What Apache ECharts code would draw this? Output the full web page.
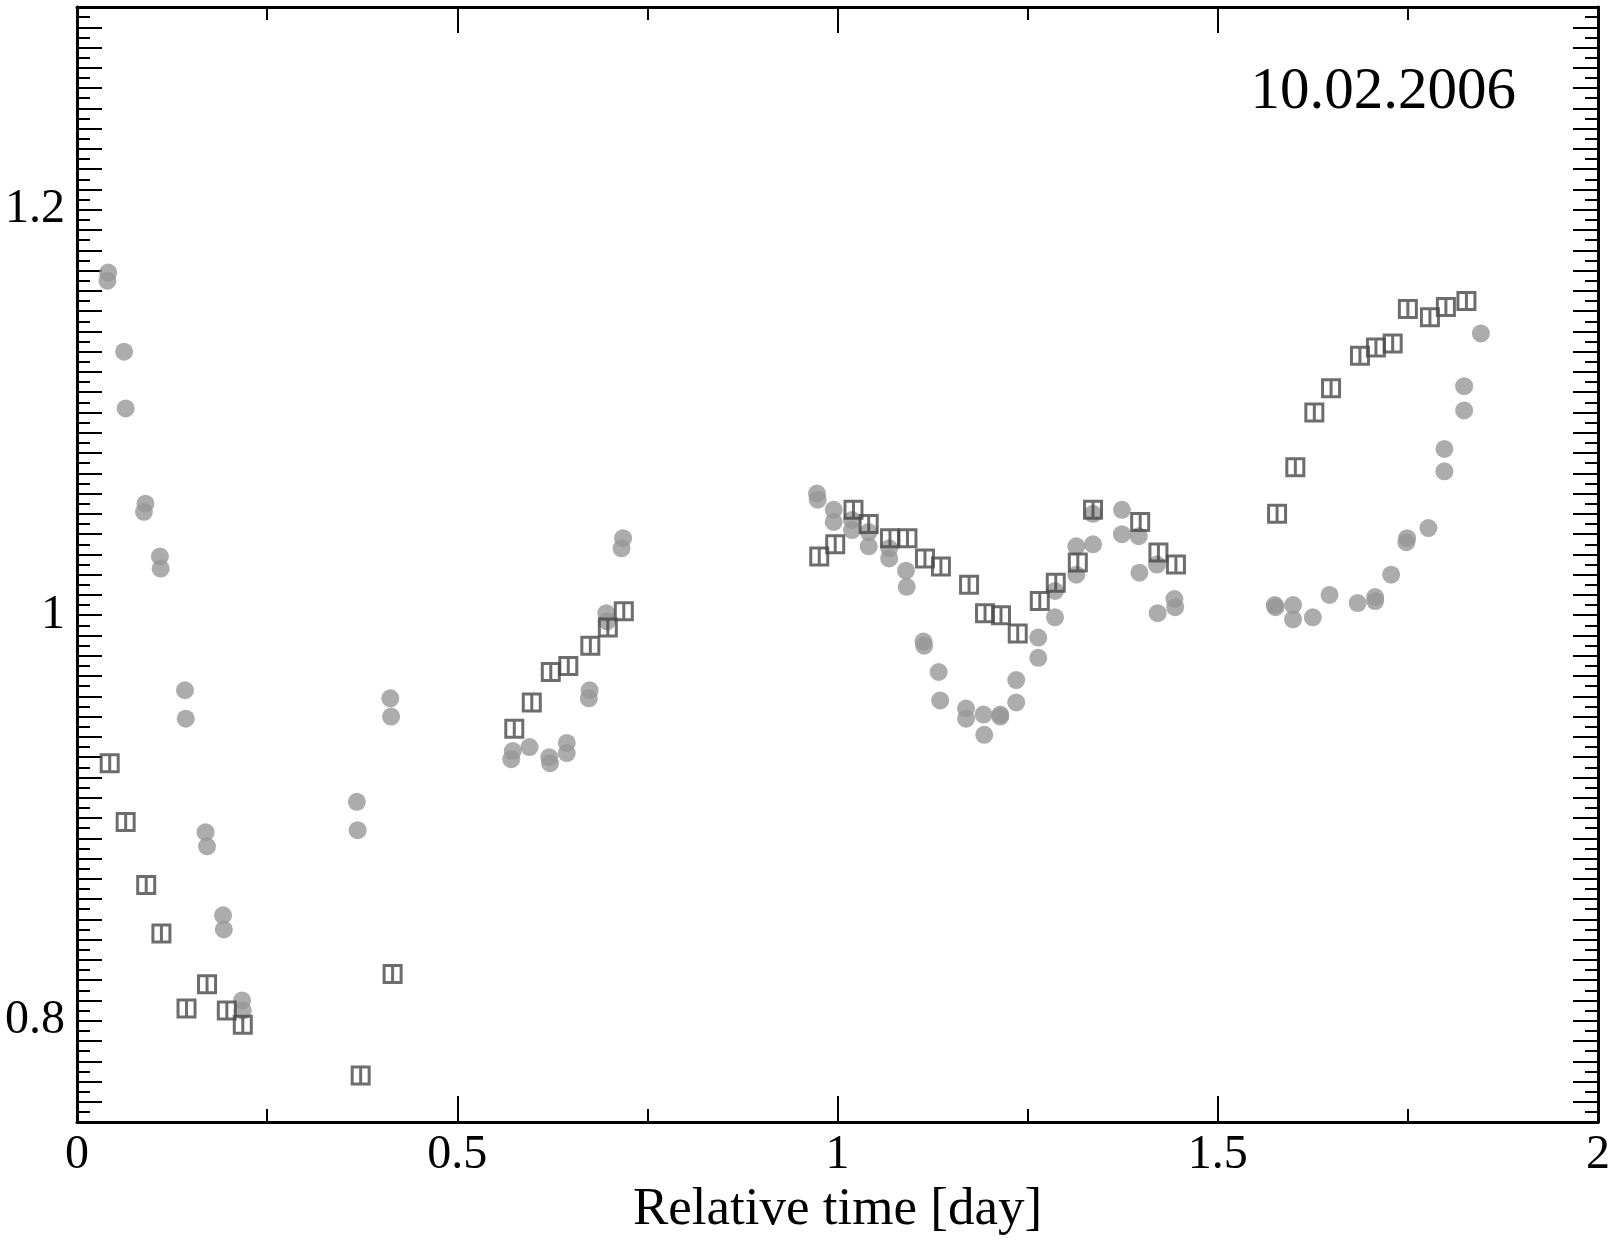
<!DOCTYPE html>
<html>
<head>
<meta charset="utf-8">
<script src="https://cdn.jsdelivr.net/npm/echarts@6/dist/echarts.min.js"></script>
<style>
html,body{margin:0;padding:0;background:#fff;}
#main{width:1615px;height:1242px;}
</style>
</head>
<body>
<div id="main"></div>
<script>
// grey dots (two readings per time)
var circTime = [0.041,0.040,0.062,0.064,0.090,0.088,0.109,0.110,0.142,0.143,0.169,0.171,0.192,0.193,0.217,0.218,
	0.368,0.369,0.412,0.413,
	0.573,0.571,0.595,0.621,0.622,0.644,0.644,0.674,0.673,0.696,0.697,0.718,0.716,
	0.973,0.974,0.995,0.995,1.019,1.019,1.041,1.041,1.068,1.068,1.090,1.091,1.113,1.114,1.133,1.135,
	1.169,1.169,1.192,1.193,1.214,1.214,1.235,1.235,1.264,1.264,1.286,1.286,1.314,1.314,1.336,1.336,
	1.374,1.374,1.396,1.397,1.420,1.421,1.443,1.444,
	1.575,1.576,1.599,1.599,1.625,1.647,1.684,1.707,1.707,1.728,1.749,1.748,1.777,1.798,1.798,1.824,1.824,1.846];
var circVal = [1.169,1.165,1.130,1.102,1.055,1.051,1.029,1.023,0.963,0.949,0.893,0.886,0.852,0.845,0.810,0.805,
	0.908,0.894,0.959,0.950,
	0.933,0.929,0.935,0.930,0.927,0.937,0.932,0.963,0.959,1.001,0.997,1.038,1.033,
	1.060,1.057,1.052,1.046,1.047,1.042,1.041,1.034,1.033,1.028,1.022,1.014,0.987,0.985,0.972,0.958,
	0.954,0.949,0.951,0.941,0.951,0.950,0.968,0.957,0.989,0.979,1.012,0.999,1.034,1.020,1.050,1.035,
	1.052,1.040,1.039,1.021,1.025,1.001,1.008,1.004,
	1.005,1.004,1.005,0.998,0.999,1.010,1.006,1.009,1.007,1.020,1.038,1.036,1.043,1.082,1.071,1.113,1.101,1.139];

// open squares
var sqTime = [0.043,0.064,0.091,0.111,0.144,0.171,0.197,0.218,0.373,0.415,
	0.575,0.598,0.623,0.646,0.675,0.698,0.719,
	0.976,0.997,1.021,1.041,1.069,1.092,1.115,1.136,1.173,1.194,1.215,1.237,1.266,1.287,1.316,1.336,1.398,1.422,1.445,
	1.578,1.602,1.627,1.649,1.687,1.708,1.730,1.750,1.779,1.800,1.827];
var sqVal = [0.927,0.898,0.867,0.843,0.806,0.818,0.805,0.798,0.773,0.823,
	0.944,0.957,0.972,0.975,0.985,0.994,1.002,
	1.029,1.035,1.052,1.045,1.038,1.038,1.028,1.024,1.015,1.001,1.000,0.991,1.007,1.016,1.026,1.052,1.046,1.031,1.025,
	1.050,1.073,1.100,1.112,1.128,1.132,1.134,1.151,1.147,1.152,1.155];

var xTicks = [0, 2, 0.5];      // min, max, interval
var yTicks = [0.75, 1.30, 0.01];
var yLabels = [0.8, 1, 1.2];

var font = 'Liberation Serif';

function pairs(a, b){
	var out = [];
	for (var i = 0; i < a.length; i++) out.push([a[i], b[i]]);
	return out;
}

var myChart = echarts.init(document.getElementById('main'));

function xAx(pos, showLabel){
	return {
		type:'value', position:pos, min:xTicks[0], max:xTicks[1], interval:xTicks[2],
		name: showLabel ? 'Relative time [day]' : '',
		nameLocation:'middle', nameGap:42,
		nameTextStyle:{fontFamily:font, fontSize:53, color:'#000'},
		axisLine:{show:true, onZero:false, lineStyle:{color:'#000', width:3}},
		axisTick:{show:true, inside:true, length:26, lineStyle:{color:'#000', width:2}},
		minorTick:{show:true, splitNumber:2, length:13, lineStyle:{color:'#000', width:2}},
		axisLabel:{show:showLabel, margin:9, fontFamily:font, fontSize:48, color:'#000'},
		splitLine:{show:false}
	};
}
function yAx(pos, showLabel){
	return {
		type:'value', position:pos, min:yTicks[0], max:yTicks[1], interval:yTicks[2],
		axisLine:{show:true, onZero:false, lineStyle:{color:'#000', width:3}},
		axisTick:{show:true, inside:true, length:25, lineStyle:{color:'#000', width:2}},
		minorTick:{show:true, splitNumber:2, length:13, lineStyle:{color:'#000', width:2}},
		axisLabel:{show:showLabel, margin:12, fontFamily:font, fontSize:48, color:'#000',
			formatter:function(v){
				for (var i = 0; i < yLabels.length; i++){
					if (Math.abs(v - yLabels[i]) < 1e-6) return String(yLabels[i]);
				}
				return '';
			}},
		splitLine:{show:false}
	};
}

var option = {
	animation:false,
	backgroundColor:'#fff',
	title:{
		text:'10.02.2006', right:94, top:58,
		textStyle:{fontFamily:font, fontSize:59, fontWeight:'normal', color:'#000'}
	},
	grid:{left:77, right:17, top:7, bottom:113},
	xAxis:[xAx('bottom', true), xAx('top', false)],
	yAxis:[yAx('left', true), yAx('right', false)],
	series:[
		{
			name:'dots', type:'scatter', symbol:'circle', symbolSize:18,
			itemStyle:{color:'#979797'},
			data:pairs(circTime, circVal)
		},
		{
			name:'squares', type:'scatter',
			symbol:'path://M0,0H10V10H0Z M5,0V10',
			symbolSize:17,
			itemStyle:{color:'rgba(0,0,0,0)', borderColor:'#484848', borderWidth:3},
			data:pairs(sqTime, sqVal)
		}
	]
};
myChart.setOption(option);
</script>
</body>
</html>
